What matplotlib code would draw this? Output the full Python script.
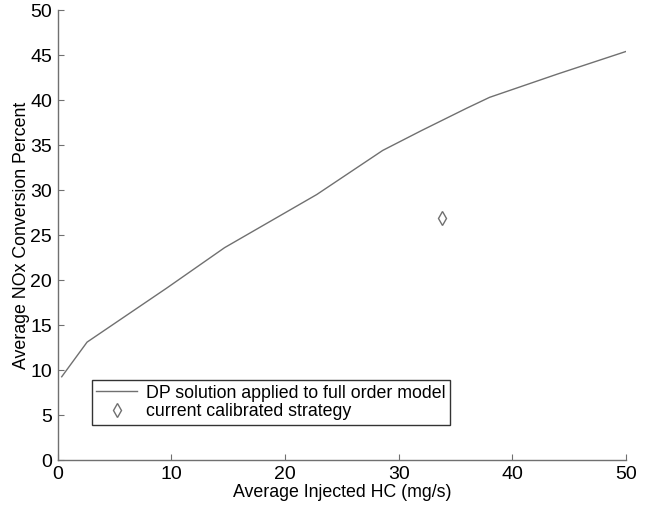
import numpy as np
from matplotlib import pyplot as plt

plt.rcParams['font.family'] = ['Liberation Sans', 'DejaVu Sans']

# DP solution curve
hc_dp = [0.37, 2.6, 9.6, 14.7, 22.8, 28.6, 32.0, 36.0, 38.0, 44.0, 50.0]
nox_dp = [9.25, 13.1, 19.1, 23.6, 29.5, 34.4, 36.6, 39.1, 40.3, 42.9, 45.4]

# current calibrated strategy
hc_cal = [33.8]
nox_cal = [26.9]

fig = plt.figure(figsize=(6.49, 5.05), dpi=100)
ax = fig.add_axes([0.0886, 0.0891, 0.8760, 0.891])

grey = '#707070'
ax.plot(hc_dp, nox_dp, color=grey, lw=1.0,
        label='DP solution applied to full order model')
# matlab's diamond is narrower than matplotlib's D
ax.plot(hc_cal, nox_cal, linestyle='none', marker='d', markersize=7,
        markerfacecolor='white', markeredgecolor=grey, markeredgewidth=1.0,
        label='current calibrated strategy')

ax.set_xlim(0, 50)
ax.set_ylim(0, 50)
ax.set_xticks(np.arange(0, 51, 10))
ax.set_yticks(np.arange(0, 51, 5))

for s in ['top', 'right']:
    ax.spines[s].set_visible(False)
for s in ['left', 'bottom']:
    ax.spines[s].set_color(grey)
    ax.spines[s].set_linewidth(1.0)
ax.tick_params(direction='in', length=4, color=grey, labelsize=14, pad=4)

ax.set_xlabel('Average Injected HC (mg/s)', fontsize=12.8, labelpad=1)
ax.set_ylabel('Average NOx Conversion Percent', fontsize=12.8, labelpad=0)

leg = ax.legend(loc='lower left', bbox_to_anchor=(0.06, 0.078), fontsize=12.8,
                frameon=True, fancybox=False, edgecolor='black',
                handlelength=2.3, borderpad=0.25, labelspacing=0.1,
                handletextpad=0.5, borderaxespad=0)
leg.get_frame().set_linewidth(1.0)

fig.savefig('out.png', dpi=100)
